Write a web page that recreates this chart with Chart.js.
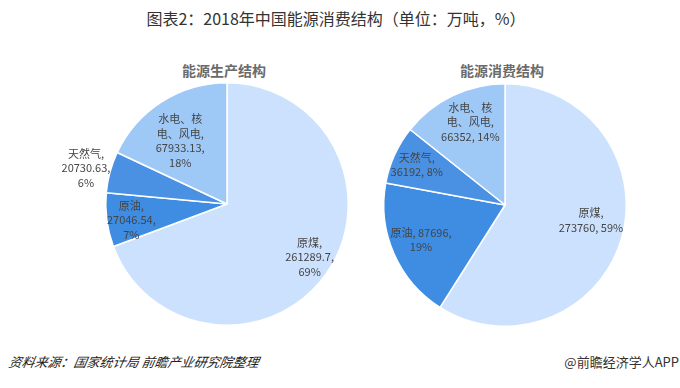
<!DOCTYPE html>
<html><head><meta charset="utf-8">
<script src="https://cdn.jsdelivr.net/npm/chart.js@4"></script>
<style>
html,body{margin:0;padding:0;background:#fff;width:680px;height:388px;overflow:hidden;position:relative;font-family:"Noto Sans CJK SC","Noto Sans",sans-serif;}
.t{position:absolute;white-space:nowrap;}
#main{left:0;width:672px;top:6px;text-align:center;font-size:16px;color:#333;}
.sub{top:60px;font-size:14px;font-weight:bold;color:#6b6b6b;transform:translateX(-50%);}
#src{left:9px;top:352px;font-size:13px;font-style:italic;color:#222;transform:skewX(-10deg);}
#app{right:1px;top:352px;font-size:13px;color:#333;}
.wrap{position:absolute;width:340px;height:260px;}
</style></head><body>
<div class="t" id="main">图表2：2018年中国能源消费结构（单位：万吨，%）</div>
<div class="t sub" style="left:224px">能源生产结构</div>
<div class="t sub" style="left:502px">能源消费结构</div>
<div class="wrap" style="left:57px;top:74px"><canvas id="c1"></canvas></div>
<div class="wrap" style="left:335px;top:75px"><canvas id="c2"></canvas></div>
<div class="t" id="src">资料来源：国家统计局 前瞻产业研究院整理</div>
<div class="t" id="app">@前瞻经济学人APP</div>
<script>
const categories = ['原煤', '原油', '天然气', '水电、核电、风电'];
const productionValues = [261289.7, 27046.54, 20730.63, 67933.13];
const productionPct = [69, 7, 6, 18];
const consumptionValues = [273760, 87696, 36192, 66352];
const consumptionPct = [59, 19, 8, 14];
const sliceColors = ['#cce1fd', '#3f8de2', '#4a91e4', '#9ec9f7'];

function nameLines(i) {
  return i === 3 ? ['水电、核', '电、风电,'] : [categories[i] + ','];
}
function prodLines(i) {
  return nameLines(i).concat([productionValues[i] + ',', productionPct[i] + '%']);
}
function consLines(i) {
  const v = consumptionValues[i], p = consumptionPct[i] + '%';
  if (i === 1) return [categories[i] + ', ' + v + ',', p];
  return nameLines(i).concat([v + ', ' + p]);
}

const labelPlugin = {
  id: 'sliceLabels',
  afterDatasetsDraw(chart, args, opts) {
    const ctx = chart.ctx;
    const meta = chart.getDatasetMeta(0);
    ctx.save();
    ctx.font = '11px "Noto Sans CJK SC", sans-serif';
    ctx.fillStyle = '#444';
    ctx.textAlign = 'center';
    ctx.textBaseline = 'middle';
    meta.data.forEach((arc, i) => {
      const mid = (arc.startAngle + arc.endAngle) / 2 + (opts.angleShift[i] || 0) * Math.PI / 180;
      const r = arc.outerRadius * opts.radial[i];
      const x = arc.x + Math.cos(mid) * r;
      const y = arc.y + Math.sin(mid) * r;
      const lines = opts.lines(i);
      const lh = 14.5;
      lines.forEach((s, k) => ctx.fillText(s, x, y + (k - (lines.length - 1) / 2) * lh));
    });
    ctx.restore();
  }
};

function makePie(id, values, lines, radial, angleShift) {
  return new Chart(document.getElementById(id), {
    type: 'pie',
    data: { labels: categories, datasets: [{ data: values, backgroundColor: sliceColors, borderColor: '#fff', borderWidth: 1.5 }] },
    options: {
      responsive: true, maintainAspectRatio: false, animation: false,
      layout: { padding: { left: 48, right: 48, top: 8, bottom: 8 } },
      plugins: { legend: { display: false }, tooltip: { enabled: false },
        sliceLabels: { lines: lines, radial: radial, angleShift: angleShift } }
    },
    plugins: [labelPlugin]
  });
}
makePie('c1', productionValues, prodLines, [0.81, 0.8, 1.2, 0.65], [-2, -2, -1, -4]);
makePie('c2', consumptionValues, consLines, [0.72, 0.75, 0.8, 0.74], [-6, 1, 0, 3]);
</script>
</body></html>
